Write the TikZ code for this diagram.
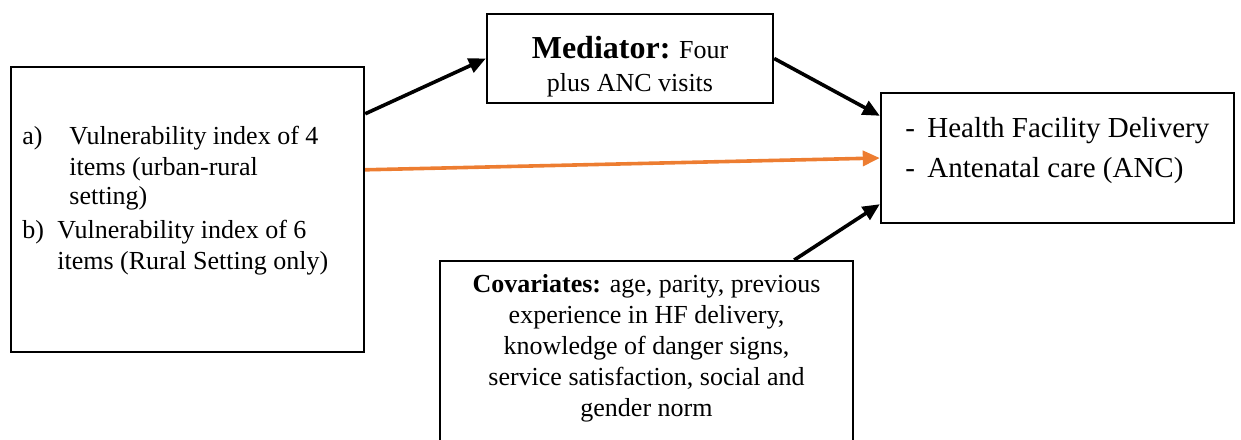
\documentclass[tikz,border=0pt]{standalone}
\usepackage{fontspec}
\setmainfont{Liberation Serif}
\usetikzlibrary{arrows.meta}
\definecolor{linkorange}{HTML}{ED7D31}
\tikzset{
	box/.style={draw, line width=1.2pt, rectangle, inner sep=0pt},
	txt/.style={inner sep=0pt, font=\fontsize{13}{15.5}\selectfont},
	link/.style={line width=1.8pt, -{Triangle[length=8.5pt,width=7.5pt]}},
}
\begin{document}
\begin{tikzpicture}[x=0.5pt,y=-0.5pt]
	\useasboundingbox (0,0) rectangle (1241,439);
	\node[box, minimum width=176.5pt, minimum height=142.5pt] (vuln) at (187.5,209.5) {};
	\node[box, minimum width=143pt, minimum height=44.5pt, align=center, font=\fontsize{13}{16.5}\selectfont] (med) at (630,58.5) {\rule{0pt}{19pt}{\fontsize{16}{16.5}\selectfont\bfseries Mediator:} Four\\plus ANC visits};
	\node[box, minimum width=176.5pt, minimum height=65pt] (out) at (1057.5,158) {};
	\node[box, minimum width=206.5pt, minimum height=110pt, anchor=north] (cov) at (646.5,260) {};
	\node[txt, anchor=north west, align=left] (vulntext) at (22,126) {\makebox[23.5pt][l]{a)}Vulnerability index of 4\\\hspace*{23.5pt}items (urban-rural\\[-1pt]\hspace*{23.5pt}setting)\\[1.5pt]\makebox[17.5pt][l]{b)}Vulnerability index of 6\\\hspace*{17.5pt}items (Rural Setting only)};
	\node[txt, anchor=north west, align=left, font=\fontsize{14.5}{20}\selectfont] (outtext) at (905,117) {\makebox[11pt][l]{-}Health Facility Delivery\\\makebox[11pt][l]{-}Antenatal care (ANC)};
	\node[txt, anchor=north, align=center] (covtext) at (646.5,274) {\textbf{Covariates:} age, parity, previous\\experience in HF delivery,\\knowledge of danger signs,\\service satisfaction, social and\\gender norm};
	\draw[link] ([yshift=-24pt]vuln.north east) -- (med.west);
	\draw[link] (med.east) -- ([yshift=-12pt]out.north west);
	\draw[link, linkorange] ([yshift=-52pt]vuln.north east) -- (out.west);
	\draw[link] ([xshift=-30pt]cov.north east) -- ([yshift=10pt]out.south west);
\end{tikzpicture}
\end{document}
